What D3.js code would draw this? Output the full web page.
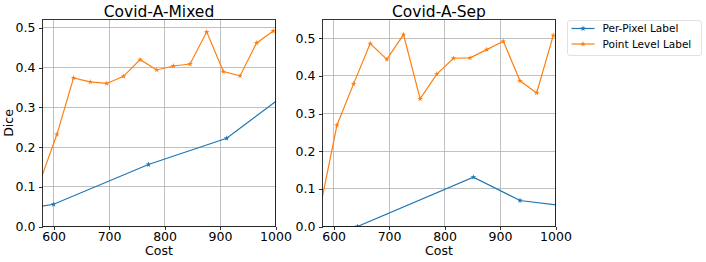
<!DOCTYPE html>
<html>
<meta charset="utf-8">
<head>
<style>
body { margin: 0; background: #fff; }
svg { font-family: "DejaVu Sans", sans-serif; }
.grid line { stroke: #b0b0b0; stroke-width: 0.8; shape-rendering: crispEdges; }
.axis path, .axis line { stroke: #000; stroke-width: 0.8; shape-rendering: crispEdges; }
.axis text { font-size: 12.5px; fill: #000; font-family: "DejaVu Sans", sans-serif; }
</style>
<script src="https://d3js.org/d3.v7.min.js"></script>
</head>
<body>
<script>
// --- data ---
var seriesNames = ["Per-Pixel Label", "Point Level Label"];
var seriesColors = ["#1f77b4", "#ff7f0e"];

var mixedPixelCost  = [560, 600, 771, 912, 1020];
var mixedPixelDice  = [0.047, 0.056, 0.156, 0.222, 0.335];
var mixedPointCost  = [576, 606, 636, 666, 696, 726, 756, 786, 816, 846, 876, 906, 936, 966, 996];
var mixedPointDice  = [0.115, 0.232, 0.374, 0.364, 0.360, 0.378, 0.420, 0.394, 0.404, 0.409, 0.490, 0.390, 0.379, 0.462, 0.492];

var sepPixelCost = [560, 643, 852, 936, 1010];
var sepPixelDice = [0.0, 0.0, 0.131, 0.069, 0.056];
var sepPointCost = [576, 606, 636, 666, 696, 726, 756, 786, 816, 846, 876, 906, 936, 966, 996];
var sepPointDice = [0.051, 0.269, 0.379, 0.486, 0.444, 0.510, 0.339, 0.405, 0.447, 0.448, 0.470, 0.492, 0.387, 0.355, 0.508];

var xTicks = [600, 700, 800, 900, 1000];
var yTicks = [0.0, 0.1, 0.2, 0.3, 0.4, 0.5];

var panels = [
    { title: "Covid-A-Mixed", left: 42.5, right: 275.5, ymax: 0.521, ylabel: "Dice",
      series: [[mixedPixelCost, mixedPixelDice], [mixedPointCost, mixedPointDice]] },
    { title: "Covid-A-Sep", left: 322.5, right: 555.5, ymax: 0.55, ylabel: null,
      series: [[sepPixelCost, sepPixelDice], [sepPointCost, sepPointDice]] }
];

var W = 706, H = 262, plotTop = 19.5, plotBottom = 226.5;

var svg = d3.select("body").append("svg")
    .attr("width", W).attr("height", H);
svg.append("rect").attr("width", W).attr("height", H).attr("fill", "#fff");

var star = d3.symbol().type(d3.symbolStar).size(10);

panels.forEach(function(p, pi) {
    var x = d3.scaleLinear().domain([580, 1000]).range([p.left, p.right]);
    var y = d3.scaleLinear().domain([0, p.ymax]).range([plotBottom, plotTop]);

    var clipId = "clip" + pi;
    svg.append("clipPath").attr("id", clipId)
      .append("rect")
        .attr("x", p.left).attr("y", plotTop)
        .attr("width", p.right - p.left).attr("height", plotBottom - plotTop);

    // grid
    var g = svg.append("g").attr("class", "grid");
    g.selectAll(".vx").data(xTicks).enter().append("line")
        .attr("x1", function(d) { return x(d); }).attr("x2", function(d) { return x(d); })
        .attr("y1", plotTop).attr("y2", plotBottom);
    g.selectAll(".hy").data(yTicks).enter().append("line")
        .attr("y1", function(d) { return y(d); }).attr("y2", function(d) { return y(d); })
        .attr("x1", p.left).attr("x2", p.right);

    // lines
    var plot = svg.append("g").attr("clip-path", "url(#" + clipId + ")");
    p.series.forEach(function(s, si) {
        var pts = s[0].map(function(c, i) { return [c, s[1][i]]; });
        plot.append("path")
            .datum(pts)
            .attr("fill", "none")
            .attr("stroke", seriesColors[si])
            .attr("stroke-width", 1.2)
            .attr("d", d3.line().x(function(d) { return x(d[0]); }).y(function(d) { return y(d[1]); }));
        plot.selectAll(".m" + si).data(pts).enter().append("path")
            .attr("d", star)
            .attr("fill", seriesColors[si])
            .attr("transform", function(d) { return "translate(" + x(d[0]) + "," + y(d[1]) + ")"; });
    });

    // frame
    svg.append("rect")
        .attr("x", p.left).attr("y", plotTop)
        .attr("width", p.right - p.left).attr("height", plotBottom - plotTop)
        .attr("fill", "none").attr("stroke", "#000").attr("stroke-width", 0.8)
        .attr("shape-rendering", "crispEdges");

    // axes
    svg.append("g").attr("class", "axis")
        .attr("transform", "translate(0," + plotBottom + ")")
        .call(d3.axisBottom(x).tickValues(xTicks).tickFormat(d3.format("d")).tickSize(3.5).tickPadding(2.5).tickSizeOuter(0))
        .call(function(a) { a.select(".domain").remove(); });
    svg.append("g").attr("class", "axis")
        .attr("transform", "translate(" + p.left + ",0)")
        .call(d3.axisLeft(y).tickValues(yTicks).tickFormat(d3.format(".1f")).tickSize(3.5).tickPadding(3.5).tickSizeOuter(0))
        .call(function(a) { a.select(".domain").remove(); });

    // labels
    svg.append("text")
        .attr("x", (p.left + p.right) / 2).attr("y", 16.5)
        .attr("text-anchor", "middle").attr("font-size", "15.5px")
        .text(p.title);
    svg.append("text")
        .attr("x", (p.left + p.right) / 2).attr("y", 255)
        .attr("text-anchor", "middle").attr("font-size", "12.5px")
        .text("Cost");
    if (p.ylabel) {
        svg.append("text")
            .attr("transform", "translate(13," + ((plotTop + plotBottom) / 2) + ") rotate(-90)")
            .attr("text-anchor", "middle").attr("font-size", "12.5px")
            .text(p.ylabel);
    }
});

// legend
var lg = svg.append("g").attr("transform", "translate(567.5,20.5)");
lg.append("rect")
    .attr("width", 134).attr("height", 35).attr("rx", 2.5)
    .attr("fill", "#fff").attr("fill-opacity", 0.8)
    .attr("stroke", "#d9d9d9").attr("stroke-width", 0.8);
seriesNames.forEach(function(n, i) {
    var yy = 8 + i * 15.5;
    lg.append("line").attr("x1", 4).attr("x2", 27).attr("y1", yy).attr("y2", yy)
        .attr("stroke", seriesColors[i]).attr("stroke-width", 1.2);
    lg.append("path").attr("d", star).attr("fill", seriesColors[i])
        .attr("transform", "translate(15.5," + yy + ")");
    lg.append("text").attr("x", 35).attr("y", yy + 3.8)
        .attr("font-size", "10.5px").text(n);
});
</script>
</body>
</html>
